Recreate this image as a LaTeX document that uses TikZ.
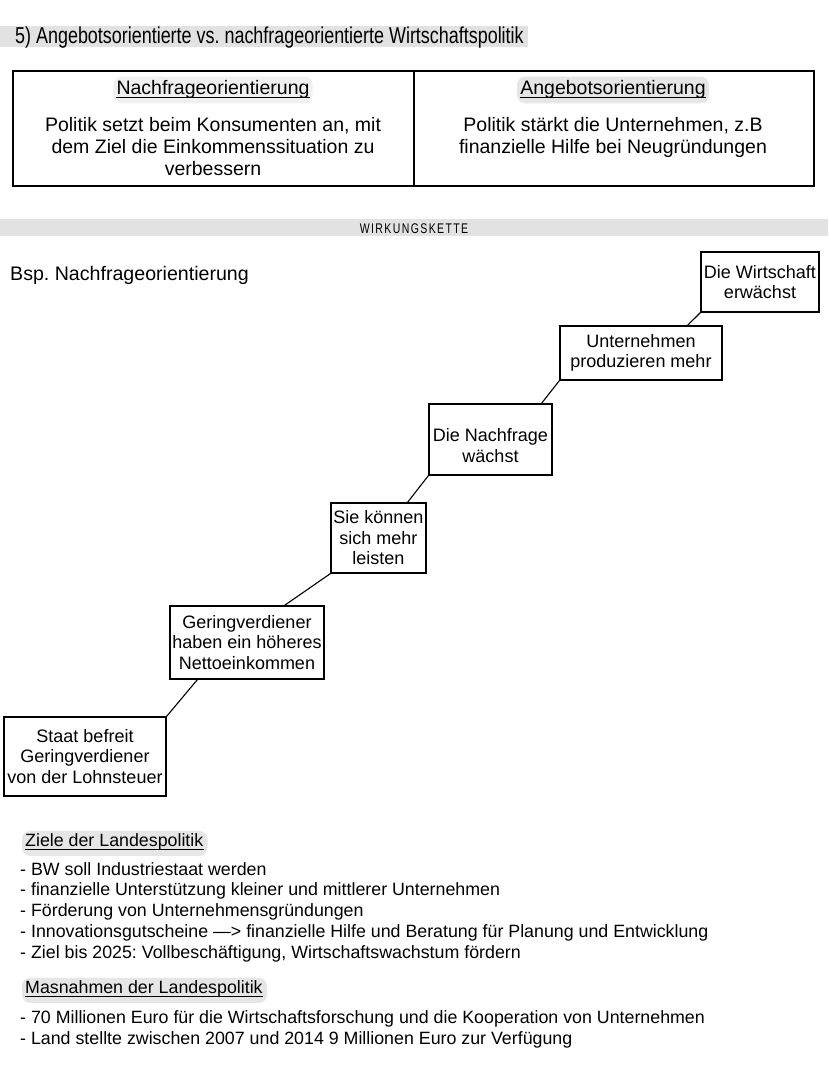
\documentclass[tikz,border=0pt]{standalone}
\usepackage{fontspec}
\setmainfont{Liberation Sans}
\newfontfamily\handfont[FakeStretch=0.78]{Liberation Sans}
\newfontfamily\spacedfont[FakeStretch=0.75,LetterSpace=10]{Liberation Sans}
\definecolor{bargray}{HTML}{E2E2E2}
\definecolor{hlgray}{HTML}{E6E6E6}
\frenchspacing
\begin{document}
\begin{tikzpicture}[x=1pt,y=-1pt,
  chainbox/.style={draw, line width=1.1pt, inner sep=0pt, align=center,
    font=\fontsize{18}{20.5}\selectfont},
  link/.style={line width=1.1pt},
  tabtext/.style={align=center, inner sep=0pt, anchor=base,
    font=\fontsize{19.5}{22}\selectfont},
  headtext/.style={inner sep=0pt, anchor=base, font=\fontsize{19.5}{22.5}\selectfont},
  listtext/.style={inner sep=0pt, anchor=base west, align=left,
    font=\fontsize{17.8}{20.7}\selectfont},
  listhead/.style={inner sep=0pt, anchor=base west, font=\fontsize{17.8}{20.7}\selectfont},
  hl/.style={fill=hlgray, rounded corners=8pt}]
\useasboundingbox (0,0) rectangle (828,1069);
\fill[white] (0,0) rectangle (828,1069);

% title
\fill[bargray] (0,26) rectangle (528,47);
\node[inner sep=0pt, anchor=base west, font=\handfont\fontsize{23}{23}\selectfont] (title) at (15,43)
  {5) Angebotsorientierte vs. nachfrageorientierte Wirtschaftspolitik};

% table
\draw[line width=1.1pt] (13,71) rectangle (814,186);
\coordinate (divtop) at (414,71);
\coordinate (divbot) at (414,186);
\draw[line width=1.1pt] (divtop) -- (divbot);

\node[headtext] (hn) at (213,94) {Nachfrageorientierung};
\node[headtext] (ha) at (613,94) {Angebotsorientierung};
\fill[hl, fill=hlgray!60] ([xshift=-3pt,yshift=-5pt]hn.south west) rectangle ([xshift=3pt,yshift=3pt]hn.north east);
\fill[hl] ([xshift=-3pt,yshift=-5pt]ha.south west) rectangle ([xshift=3pt,yshift=3pt]ha.north east);
\node[headtext] at (hn.base) {Nachfrageorientierung};
\node[headtext] at (ha.base) {Angebotsorientierung};
\draw[line width=0.9pt] ([yshift=-3pt]hn.base west) -- ([yshift=-3pt]hn.base east);
\draw[line width=0.9pt] ([yshift=-3pt]ha.base west) -- ([yshift=-3pt]ha.base east);

% (base anchor = baseline of last line)
\node[tabtext] (tn) at (213,175) {Politik setzt beim Konsumenten an, mit\\dem Ziel die Einkommenssituation zu\\verbessern};
\node[tabtext] (ta) at (613,153) {Politik stärkt die Unternehmen, z.B\\finanzielle Hilfe bei Neugründungen};

% Wirkungskette band
\fill[bargray] (0,219) rectangle (828,236);
\node[inner sep=0pt, anchor=base, font=\spacedfont\fontsize{14}{14}\selectfont] (wk) at (414,233) {WIRKUNGSKETTE};

\node[inner sep=0pt, anchor=base west, font=\fontsize{19.6}{22}\selectfont] (bsp) at (10,280) {Bsp. Nachfrageorientierung};

% chain boxes
\node[chainbox, minimum width=118pt, minimum height=60pt] (b1) at (760,282) {Die Wirtschaft\\erwächst};
\node[chainbox, minimum width=162pt, minimum height=54pt] (b2) at (641,353) {Unternehmen\\produzieren mehr};
\node[chainbox, minimum width=123pt, minimum height=71pt] (b3) at (490.5,439.5) {};
\node[chainbox, draw=none] (b3t) at ([yshift=-6pt]b3.center) {Die Nachfrage\\wächst};
\node[chainbox, minimum width=95pt, minimum height=70pt] (b4) at (378.5,538) {Sie können\\sich mehr\\leisten};
\node[chainbox, minimum width=154pt, minimum height=73pt] (b5) at (247,642.5) {Geringverdiener\\haben ein höheres\\Nettoeinkommen};
\node[chainbox, minimum width=162pt, minimum height=79pt] (b6) at (85,756.5) {Staat befreit\\Geringverdiener\\von der Lohnsteuer};

\draw[link] (b6.north east) -- ([xshift=28pt]b5.south west);
\draw[link] ([xshift=115pt]b5.north west) -- (b4.south west);
\draw[link] ([xshift=77pt]b4.north west) -- (b3.south west);
\draw[link] ([xshift=113pt]b3.north west) -- (b2.south west);
\draw[link] ([xshift=128pt]b2.north west) -- (b1.south west);

% Ziele
\node[listhead] (zh) at (25,846) {Ziele der Landespolitik};
\fill[hl] ([xshift=-3pt,yshift=-6pt]zh.south west) rectangle ([xshift=4pt,yshift=2pt]zh.north east);
\node[listhead] at (zh.base west) {Ziele der Landespolitik};
\draw[line width=0.9pt] ([yshift=-3pt]zh.base west) -- ([yshift=-3pt]zh.base east);
\node[listtext] (zl) at (20,958) {- BW soll Industriestaat werden\\
- finanzielle Unterstützung kleiner und mittlerer Unternehmen\\
- Förderung von Unternehmensgründungen\\
- Innovationsgutscheine —> finanzielle Hilfe und Beratung für Planung und Entwicklung\\
- Ziel bis 2025: Vollbeschäftigung, Wirtschaftswachstum fördern};

% Masnahmen
\node[listhead] (mh) at (25,993) {Masnahmen der Landespolitik};
\fill[hl] ([xshift=-3pt,yshift=-6pt]mh.south west) rectangle ([xshift=4pt,yshift=2pt]mh.north east);
\node[listhead] at (mh.base west) {Masnahmen der Landespolitik};
\draw[line width=0.9pt] ([yshift=-3pt]mh.base west) -- ([yshift=-3pt]mh.base east);
\node[listtext] (ml) at (20,1044) {- 70 Millionen Euro für die Wirtschaftsforschung und die Kooperation von Unternehmen\\
- Land stellte zwischen 2007 und 2014 9 Millionen Euro zur Verfügung};
\end{tikzpicture}
\end{document}
